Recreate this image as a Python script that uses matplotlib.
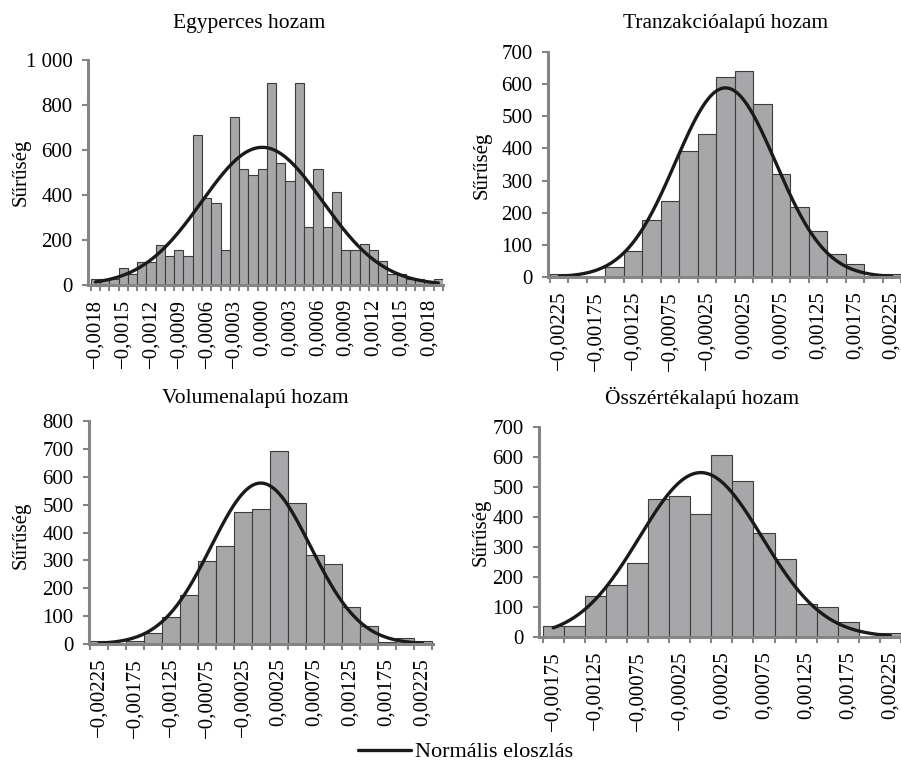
import numpy as np
import matplotlib
matplotlib.use("Agg")
import matplotlib.pyplot as plt
from matplotlib.ticker import FixedLocator, FuncFormatter

plt.rcParams['font.family'] = ['Liberation Serif', 'DejaVu Serif']
plt.rcParams['font.size'] = 15

W, H = 901, 767

# ---------------- data ----------------
# Panel 1: Egyperces hozam (bin width 0.0001, first bin centre -0.0018)
p1_title = "Egyperces hozam"
p1_first_center = -0.0018
p1_bin = 0.0001
p1_density = [25, 25, 25, 77, 50, 104, 104, 180, 130, 157, 130, 668, 385, 363, 157,
              745, 517, 490, 517, 900, 541, 464, 900, 259, 517, 259, 412, 157, 157,
              182, 157, 105, 50, 50, 25, 25, 12, 28]
p1_xlabels = [-0.0018, -0.0015, -0.0012, -0.0009, -0.0006, -0.0003, 0.0,
              0.0003, 0.0006, 0.0009, 0.0012, 0.0015, 0.0018]
p1_yticks = [0, 200, 400, 600, 800, 1000]
p1_mu, p1_sigma = 0.0, 0.000652

# Panel 2: Tranzakcióalapú hozam (bin width 0.00025)
p2_title = "Tranzakcióalapú hozam"
p2_first_center = -0.00225
p2_bin = 0.00025
p2_density = [10, 0, 0, 31, 82, 176, 238, 392, 445, 621, 641, 537, 320, 217, 144,
              72, 40, 0, 10]
p2_xlabels = [-0.00225, -0.00175, -0.00125, -0.00075, -0.00025, 0.00025,
              0.00075, 0.00125, 0.00175, 0.00225]
p2_yticks = [0, 100, 200, 300, 400, 500, 600, 700]
p2_mu, p2_sigma = 0.0, 0.000678

# Panel 3: Volumenalapú hozam
p3_title = "Volumenalapú hozam"
p3_first_center = -0.00225
p3_bin = 0.00025
p3_density = [10, 0, 10, 41, 98, 175, 298, 350, 473, 484, 692, 505, 318, 287, 132,
              63, 8, 20, 10]
p3_xlabels = [-0.00225, -0.00175, -0.00125, -0.00075, -0.00025, 0.00025,
              0.00075, 0.00125, 0.00175, 0.00225]
p3_yticks = [0, 100, 200, 300, 400, 500, 600, 700, 800]
p3_mu, p3_sigma = 0.0, 0.000691

# Panel 4: Összértékalapú hozam
p4_title = "Összértékalapú hozam"
p4_first_center = -0.00175
p4_bin = 0.00025
p4_density = [37, 37, 137, 174, 248, 459, 471, 409, 607, 521, 348, 261, 111, 99,
              49, 0, 12]
p4_xlabels = [-0.00175, -0.00125, -0.00075, -0.00025, 0.00025, 0.00075,
              0.00125, 0.00175, 0.00225]
p4_yticks = [0, 100, 200, 300, 400, 500, 600, 700]
p4_mu, p4_sigma = 0.0, 0.000728

ylabel = "Sűrűség"
legend_label = "Normális eloszlás"

# --------------- styling ---------------
BAR_FC = '#a7a7aa'
BAR_EC = '#3c3c3c'
AX_C = '#858585'
CURVE_C = '#1a1a1a'


def fmt_x(v, dec):
    if abs(v) < 1e-12:
        return "0," + "0" * dec
    s = f"{abs(v):.{dec}f}".replace('.', ',')
    return ("\u2212" + s) if v < 0 else s


def fmt_y(v, pos=None):
    return f"{int(round(v)):,}".replace(',', ' ')


def panel(rect_px, xlim, ylim, first_center, binw, dens, xlabels, dec, yticks,
          mu, sigma, title, title_xy, ylab_xy):
    l, t, r, b = rect_px
    ax = fig.add_axes([l / W, 1 - b / H, (r - l) / W, (b - t) / H])
    n = len(dens)
    centers = first_center + binw * np.arange(n)
    ax.bar(centers, dens, width=binw, color=BAR_FC, edgecolor=BAR_EC,
           linewidth=0.8, zorder=2)
    xs = np.linspace(centers[0], centers[-1], 400)
    ys = np.exp(-0.5 * ((xs - mu) / sigma) ** 2) / (sigma * np.sqrt(2 * np.pi))
    ax.plot(xs, ys, color=CURVE_C, lw=2.4, zorder=3, label=legend_label,
            solid_capstyle='round')
    ax.set_xlim(*xlim)
    ax.set_ylim(*ylim)
    for s in ('top', 'right'):
        ax.spines[s].set_visible(False)
    for s in ('left', 'bottom'):
        ax.spines[s].set_color(AX_C)
        ax.spines[s].set_linewidth(2.2)
        ax.spines[s].set_zorder(4)
    ax.set_yticks(yticks)
    ax.yaxis.set_major_formatter(FuncFormatter(fmt_y))
    ax.tick_params(axis='y', direction='out', length=4, width=1.5,
                   color=AX_C, pad=7, labelsize=15)
    ax.set_xticks(xlabels)
    ax.set_xticklabels([fmt_x(v, dec) for v in xlabels], rotation=90)
    edges = first_center - binw / 2 + binw * np.arange(n + 1)
    ax.xaxis.set_minor_locator(FixedLocator(edges))
    ax.tick_params(axis='x', which='major', length=0, pad=10, labelsize=15)
    ax.tick_params(axis='x', which='minor', direction='out', length=4,
                   width=1.5, color=AX_C)
    fig.text(title_xy[0] / W, 1 - title_xy[1] / H, title, ha='center',
             va='baseline', fontsize=15.5)
    fig.text(ylab_xy[0] / W, 1 - ylab_xy[1] / H, ylabel, rotation=90,
             ha='center', va='center', fontsize=15)
    return ax


fig = plt.figure(figsize=(W / 100, H / 100), dpi=100)

ax1 = panel((88, 60, 443, 285), (-0.00188, 0.00195), (0, 1000),
            p1_first_center, p1_bin, p1_density, p1_xlabels, 4, p1_yticks,
            p1_mu, p1_sigma, p1_title, (249, 28), (21, 172))
ax2 = panel((548, 52, 901, 277), (-0.002402, 0.002375), (0, 700),
            p2_first_center, p2_bin, p2_density, p2_xlabels, 5, p2_yticks,
            p2_mu, p2_sigma, p2_title, (726, 28), (482, 165))
ax3 = panel((89, 421, 433, 644), (-0.00239, 0.002395), (0, 800),
            p3_first_center, p3_bin, p3_density, p3_xlabels, 5, p3_yticks,
            p3_mu, p3_sigma, p3_title, (255, 403), (21, 535))
ax4 = panel((539, 427, 901, 637), (-0.001919, 0.002375), (0, 700),
            p4_first_center, p4_bin, p4_density, p4_xlabels, 5, p4_yticks,
            p4_mu, p4_sigma, p4_title, (702, 404), (481, 532))

h, lab = ax1.get_legend_handles_labels()
fig.legend(h, lab, loc='center left', bbox_to_anchor=(358 / W, 1 - 752 / H),
           frameon=False, borderpad=0, borderaxespad=0, handlelength=2.4,
           handletextpad=0.15, fontsize=16)

fig.savefig("out.png", dpi=100)
